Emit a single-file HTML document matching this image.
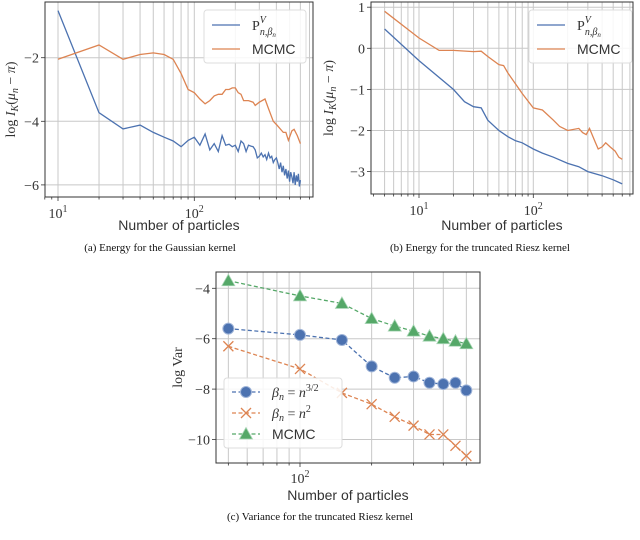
<!DOCTYPE html>
<html><head><meta charset="utf-8"><style>
html,body{margin:0;padding:0;background:#fff;}
svg{display:block;}
.tk{font-family:"Liberation Serif",serif;font-size:14px;fill:#333;}
.lbl{font-family:"Liberation Sans",sans-serif;font-size:14px;fill:#333;}
.cap{font-family:"Liberation Serif",serif;font-size:11px;fill:#111;}
</style></head><body>
<svg id="fig" width="640" height="540" viewBox="0 0 640 540" xmlns="http://www.w3.org/2000/svg">
<text class="cap" x="160" y="251" text-anchor="middle">(a) Energy for the Gaussian kernel</text>
<text class="cap" x="480" y="251" text-anchor="middle">(b) Energy for the truncated Riesz kernel</text>
<text class="cap" x="320" y="520" text-anchor="middle">(c) Variance for the truncated Riesz kernel</text>
</svg>
<script>
// Chart A data
const aBlueN=[10,20,30,40,50,60,70,80,90,100,110,120,130,140,150,160,170,180,190,200,210,220,230,240,250,260,270,280,290,300,310,320,330,340,350,360,370,380,390,400,410,420,430,440,450,460,470,480,490,500,510,520,530,540,550,560,570,580,590,600];
const aBlueV=[-0.52,-3.73,-4.24,-4.12,-4.35,-4.5,-4.62,-4.8,-4.6,-4.5,-4.75,-4.4,-4.9,-4.7,-4.95,-4.45,-4.75,-4.72,-4.8,-4.75,-4.95,-4.62,-4.7,-4.95,-4.75,-4.78,-4.8,-4.9,-5.15,-5.1,-5.0,-5.12,-5.05,-5.2,-5.0,-5.15,-5.1,-5.3,-5.2,-5.15,-5.3,-5.5,-5.3,-5.6,-5.4,-5.7,-5.5,-5.8,-5.55,-5.9,-5.6,-5.75,-5.95,-5.6,-6.0,-5.7,-5.9,-5.65,-6.05,-5.85];
const aOrN=[10,20,30,40,50,60,70,80,90,100,110,120,130,140,150,160,170,180,190,200,210,220,230,250,270,280,300,330,350,380,400,450,470,490,520,540,570,600];
const aOrV=[-2.05,-1.6,-2.05,-1.9,-1.85,-1.9,-2.05,-2.5,-3.0,-3.1,-3.3,-3.45,-3.35,-3.2,-3.15,-3.15,-3.0,-3.0,-2.95,-2.95,-3.1,-3.15,-3.35,-3.35,-3.4,-3.5,-3.4,-3.3,-3.6,-4.0,-4.1,-4.35,-4.35,-4.6,-4.3,-4.25,-4.45,-4.7];
const aYTicks=[-2,-4,-6];
// Chart B data
const bBlueN=[5,10,20,25,30,35,40,50,60,70,80,100,120,150,200,250,300,400,500,600];
const bBlueV=[0.47,-0.3,-1.0,-1.3,-1.42,-1.45,-1.75,-2.0,-2.15,-2.25,-2.3,-2.45,-2.55,-2.65,-2.8,-2.88,-3.0,-3.1,-3.2,-3.3];
const bOrN=[5,10,15,20,30,35,40,50,55,60,80,100,120,150,170,200,250,270,290,310,350,370,400,430,470,520,560,600];
const bOrV=[0.9,0.25,-0.05,-0.05,-0.08,-0.07,-0.2,-0.4,-0.42,-0.6,-1.1,-1.45,-1.5,-1.75,-1.9,-2.0,-1.95,-2.05,-2.1,-1.95,-2.3,-2.45,-2.4,-2.3,-2.4,-2.5,-2.65,-2.7];
const bYTicks=[1,0,-1,-2,-3];
// Chart C data
const cN=[50,100,150,200,250,300,350,400,450,500];
const cBlue=[-5.6,-5.85,-6.05,-7.1,-7.55,-7.5,-7.75,-7.8,-7.75,-8.05];
const cOrange=[-6.3,-7.2,-8.15,-8.6,-9.1,-9.45,-9.8,-9.8,-10.25,-10.65];
const cGreen=[-3.7,-4.3,-4.6,-5.2,-5.5,-5.7,-5.9,-6.0,-6.1,-6.2];
const cYTicks=[-4,-6,-8,-10];

const NS="http://www.w3.org/2000/svg";
const svg=document.getElementById('fig');
const BLUE="#4c72b0",OR="#dd8452",GR="#55a868";
function mk(tag,attrs,parent){const e=document.createElementNS(NS,tag);for(const k in attrs)e.setAttribute(k,attrs[k]);(parent||svg).appendChild(e);return e;}

function axes(cfg){
  const g=mk('g',{});
  
  
  const X=n=>cfg.x10+(Math.log10(n)-1)*cfg.dec;
  const Y=v=>cfg.y0+(cfg.v0-v)*cfg.pu;
  for(let d=0;d<=3;d++)for(let m=1;m<=9;m++){
    const n=m*Math.pow(10,d);const x=X(n);
    if(x<cfg.L-0.5||x>cfg.R+0.5)continue;
    if(n>=cfg.gmin&&n<=cfg.gmax){const gl=mk('line',{x1:x,x2:x,y1:cfg.T,y2:cfg.B,stroke:'#c8c8c8','stroke-width':1},g);}
    mk('line',{x1:x,x2:x,y1:cfg.B,y2:cfg.B+(m==1?4:2.5),stroke:'#333','stroke-width':0.8},g);
    if(m==1){const t=mk('text',{class:'tk',x:x,y:cfg.B+cfg.tkdy,'text-anchor':'middle'},g);t.innerHTML='10<tspan dy="-6" font-size="10">'+d+'</tspan>';}
  }
  cfg.yt.forEach(v=>{const y=Y(v);
    const gl=mk('line',{x1:cfg.L,x2:cfg.R,y1:y,y2:y,stroke:'#c8c8c8','stroke-width':1},g);
    
    mk('line',{x1:cfg.L-4,x2:cfg.L,y1:y,y2:y,stroke:'#333','stroke-width':0.8},g);
    const t=mk('text',{class:'tk',x:cfg.L-6,y:y+5,'text-anchor':'end'},g);t.textContent=(v<0?'\u2212'+(-v):''+v);
    });
  const fr=mk('rect',{x:cfg.L,y:cfg.T,width:cfg.R-cfg.L,height:cfg.B-cfg.T,fill:'none',stroke:'#333','stroke-width':1},g);
  
  const xl=mk('text',{class:'lbl',x:(cfg.L+cfg.R)/2,y:cfg.B+cfg.tidy,'text-anchor':'middle'},g);xl.textContent='Number of particles';
  
  const yl=mk('text',{class:'tk','font-size':'15',transform:`translate(${cfg.ylx},${(cfg.T+cfg.B)/2}) rotate(-90)`,'text-anchor':'middle'},g);
  yl.innerHTML=cfg.ylabel;
  return {X,Y,g};
}
function line(ax,ns,vs,color,name,dash){
  const p=mk('polyline',{points:ns.map((n,i)=>ax.X(n).toFixed(1)+','+ax.Y(vs[i]).toFixed(1)).join(' '),fill:'none',stroke:color,'stroke-width':1.3,'stroke-dasharray':dash||'none'},ax.g);
  
}
function marker(g,x,y,type,color){
  let e;
  if(type=='o')e=mk('circle',{cx:x,cy:y,r:5.5,fill:color,stroke:'#9fb4d8','stroke-width':1},g);
  else if(type=='x')e=mk('path',{d:`M${x-5},${y-5}L${x+5},${y+5}M${x-5},${y+5}L${x+5},${y-5}`,stroke:color,'stroke-width':1.3},g);
  else e=mk('polygon',{points:`${x},${y-6.5} ${x-6.5},${y+5} ${x+6.5},${y+5}`,fill:color,stroke:'#a8d5b5','stroke-width':0.8},g);
  
}
const ylabE='log <tspan font-style="italic">I</tspan><tspan font-size="10" dy="3" font-style="italic">K</tspan><tspan dy="-3">(</tspan><tspan font-style="italic">μ</tspan><tspan font-size="10" dy="3" font-style="italic">n</tspan><tspan dy="-3"> − </tspan><tspan font-style="italic">π</tspan>)';
function legend2(g,x,y,w,h){
  const r=mk('rect',{x,y,width:w,height:h,rx:3,fill:'#fff','fill-opacity':0.85,stroke:'#ddd'},g);
  
  mk('line',{x1:x+8,x2:x+36,y1:y+15,y2:y+15,stroke:BLUE,'stroke-width':1.3},g);
  const t1=mk('text',{class:'tk',x:x+48,y:y+20,'font-size':'15'},g);t1.innerHTML='P<tspan font-size="10" dy="-7" font-style="italic">V</tspan><tspan font-size="10" dx="-6" dy="12" font-style="italic">n,β</tspan><tspan font-size="7" dy="2" font-style="italic">n</tspan>';
  
  mk('line',{x1:x+8,x2:x+36,y1:y+39,y2:y+39,stroke:OR,'stroke-width':1.3},g);
  const t2=mk('text',{class:'lbl','font-size':'15',x:x+48,y:y+44},g);t2.textContent='MCMC';
  
}
// A
const A=axes({name:'chart-a',L:45,R:313,T:2,B:197,x10:58,dec:136.3,y0:57.7,v0:-2,pu:31.8,yt:aYTicks,gmin:10,gmax:700,ylx:15,tkdy:21,tidy:33,ylabel:ylabE});
line(A,aBlueN,aBlueV,BLUE,'series-p-a');line(A,aOrN,aOrV,OR,'series-mcmc-a');
legend2(A.g,204,10,102,53);
// B
const B=axes({name:'chart-b',L:371,R:633,T:2,B:194,x10:419,dec:114.3,y0:48.3,v0:0,pu:41.1,yt:bYTicks,gmin:5,gmax:700,ylx:333,tkdy:21,tidy:36,ylabel:ylabE});
line(B,bBlueN,bBlueV,BLUE,'series-p-b');line(B,bOrN,bOrV,OR,'series-mcmc-b');
legend2(B.g,529,10,103,53);
// C
const C=axes({name:'chart-c',L:216,R:480,T:272,B:463,x10:300-238,dec:238,y0:288.3,v0:-4,pu:25.2,yt:cYTicks,gmin:50,gmax:500,ylx:182,tkdy:20,tidy:37,ylabel:'log Var'});
[[cGreen,GR,'^','series-mcmc-c'],[cBlue,BLUE,'o','series-n32'],[cOrange,OR,'x','series-n2']].forEach(([vs,c,t,nm])=>{
  line(C,cN,vs,c,nm,'4,2.5');cN.forEach((n,i)=>marker(C.g,C.X(n),C.Y(vs[i]),t,c));});
{const g=C.g,x=224,y=378;
 const r=mk('rect',{x,y,width:118,height:70,rx:3,fill:'#fff','fill-opacity':0.85,stroke:'#ddd'},g);
 
 const rows=[[BLUE,'o','<tspan font-style="italic">β</tspan><tspan font-size="10" dy="3" font-style="italic">n</tspan><tspan dy="-3"> = </tspan><tspan font-style="italic">n</tspan><tspan font-size="10" dy="-6">3/2</tspan>','legend-entry-n32','tk'],
  [OR,'x','<tspan font-style="italic">β</tspan><tspan font-size="10" dy="3" font-style="italic">n</tspan><tspan dy="-3"> = </tspan><tspan font-style="italic">n</tspan><tspan font-size="10" dy="-6">2</tspan>','legend-entry-n2','tk'],
  [GR,'^','MCMC','legend-entry-mcmc','lbl']];
 rows.forEach((rw,i)=>{const yy=y+14+i*21;
  mk('line',{x1:x+8,x2:x+36,y1:yy,y2:yy,stroke:rw[0],'stroke-width':1.3,'stroke-dasharray':'4,2.5'},g);
  marker(g,x+22,yy,rw[1],rw[0]);
  const t=mk('text',{class:rw[4],x:x+48,y:yy+5,'font-size':'15'},g);t.innerHTML=rw[2];
  });
}
</script>
</body></html>
